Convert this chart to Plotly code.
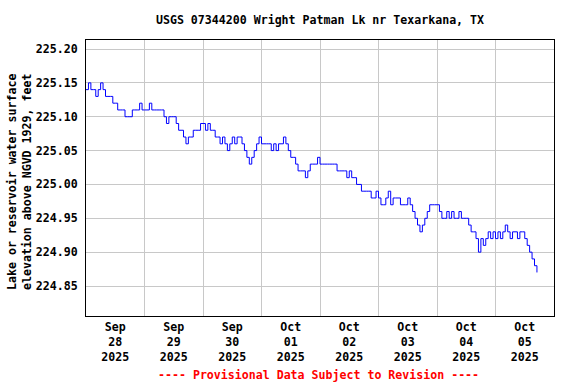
import pandas as pd
import plotly.graph_objects as go

# Hourly gage height readings (feet), starting 2025-09-28 00:00
start_time = "2025-09-28 00:00"
day1 = [225.14, 225.15, 225.14, 225.14, 225.13, 225.14, 225.15, 225.14,
        225.13, 225.13, 225.13, 225.12, 225.12, 225.11, 225.11, 225.11,
        225.10, 225.10, 225.10, 225.11, 225.11, 225.11, 225.12, 225.11]
day2 = [225.11, 225.11, 225.12, 225.11, 225.11, 225.11, 225.11, 225.11,
        225.10, 225.09, 225.10, 225.10, 225.10, 225.09, 225.08, 225.08,
        225.07, 225.06, 225.07, 225.07, 225.08, 225.08, 225.08, 225.09]
day3 = [225.09, 225.08, 225.09, 225.08, 225.08, 225.07, 225.07, 225.06,
        225.07, 225.06, 225.05, 225.06, 225.07, 225.06, 225.07, 225.07,
        225.06, 225.05, 225.04, 225.03, 225.04, 225.05, 225.06, 225.07]
day4 = [225.06, 225.06, 225.06, 225.06, 225.05, 225.06, 225.05, 225.06,
        225.06, 225.07, 225.06, 225.05, 225.04, 225.04, 225.03, 225.02,
        225.02, 225.02, 225.01, 225.02, 225.03, 225.03, 225.03, 225.04]
day5 = [225.03, 225.03, 225.03, 225.03, 225.03, 225.03, 225.03, 225.02,
        225.02, 225.02, 225.02, 225.01, 225.02, 225.01, 225.01, 225.00,
        225.00, 224.99, 224.99, 224.99, 224.99, 224.98, 224.98, 224.99]
day6 = [224.98, 224.97, 224.97, 224.98, 224.99, 224.97, 224.98, 224.98,
        224.98, 224.97, 224.97, 224.97, 224.98, 224.97, 224.96, 224.95,
        224.94, 224.93, 224.94, 224.95, 224.96, 224.97, 224.97, 224.97]
day7 = [224.97, 224.96, 224.95, 224.95, 224.96, 224.95, 224.96, 224.95,
        224.95, 224.96, 224.95, 224.95, 224.95, 224.94, 224.93, 224.93,
        224.92, 224.90, 224.92, 224.91, 224.92, 224.93, 224.92, 224.93]
day8 = [224.92, 224.93, 224.92, 224.93, 224.94, 224.93, 224.92, 224.93,
        224.93, 224.92, 224.93, 224.93, 224.92, 224.91, 224.90, 224.89,
        224.88, 224.87]
elevation = day1 + day2 + day3 + day4 + day5 + day6 + day7 + day8
times = pd.date_range(start_time, periods=len(elevation), freq="h")

y_ticks = [224.85, 224.90, 224.95, 225.00, 225.05, 225.10, 225.15, 225.20]
x_range = ["2025-09-28 00:00", "2025-10-06 00:00"]
y_range = [224.8057, 225.2133]

title_text = "USGS 07344200 Wright Patman Lk nr Texarkana, TX"
ylabel_text = "Lake or reservoir water surface<br>elevation above NGVD 1929, feet"
footer_text = "---- Provisional Data Subject to Revision ----"

FONT = "DejaVu Sans Mono"
fs = 11.6
W, H = 576, 384

fig = go.Figure()
fig.add_trace(go.Scatter(x=times, y=elevation, mode="lines",
                         line=dict(color="#0000FF", width=1, shape="hv"),
                         hoverinfo="skip", showlegend=False))

fig.update_layout(
    width=W, height=H,
    margin=dict(l=86, r=22, t=40, b=68),
    paper_bgcolor="white", plot_bgcolor="white",
    font=dict(family=FONT, size=fs, color="black", weight="bold"),
    title=dict(text=title_text, x=0.5, xref="paper", xanchor="center",
               y=1 - 20 / H, yref="container", yanchor="middle",
               font=dict(family=FONT, size=fs, color="black", weight="bold")),
)

fig.update_xaxes(
    type="date", range=x_range, dtick=86400000, tick0="2025-09-28",
    ticklabelmode="period", tickformat="%b<br>%d<br>%Y",
    showgrid=True, gridcolor="#c8c8c8", gridwidth=1,
    showline=True, linecolor="black", linewidth=1, mirror=True,
    ticks="", zeroline=False,
    tickfont=dict(family=FONT, size=fs, color="black", weight="bold"),
)
fig.update_yaxes(
    range=y_range, tickvals=y_ticks, tickformat=".2f",
    showgrid=True, gridcolor="#c8c8c8", gridwidth=1,
    showline=True, linecolor="black", linewidth=1, mirror=True,
    ticks="", zeroline=False, ticklabelstandoff=5,
    tickfont=dict(family=FONT, size=fs, color="black", weight="bold"),
)

fig.add_annotation(text=ylabel_text, textangle=-90, showarrow=False,
                   xref="paper", yref="paper", x=(19 - 86) / 468, y=(316 - 182) / 276,
                   xanchor="center", yanchor="middle",
                   font=dict(family=FONT, size=fs, color="black", weight="bold"))
fig.add_annotation(text=footer_text, showarrow=False,
                   xref="paper", yref="paper", x=0.497, y=(316 - 375) / 276,
                   xanchor="center", yanchor="middle",
                   font=dict(family=FONT, size=fs, color="#FF0000", weight="bold"))

fig.write_html("out.html", config={"displayModeBar": False},
               post_script="document.body.style.margin='0';")
